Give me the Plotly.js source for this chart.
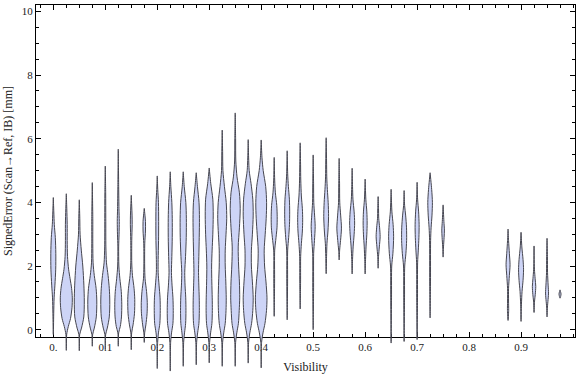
<!DOCTYPE html>
<html>
<head>
<meta charset="utf-8">
<script src="https://cdn.plot.ly/plotly-3.0.1.min.js"></script>
<style>html,body{margin:0;padding:0;background:#fff;}#chart{width:576px;height:377px;}</style>
</head>
<body>
<div id="chart"></div>
<script>
// Violin centres (Visibility)
const visibility = [0, 0.025, 0.05, 0.075, 0.1, 0.125, 0.15, 0.175, 0.2, 0.225, 0.25, 0.275, 0.3, 0.325, 0.35, 0.375, 0.4,
  0.425, 0.45, 0.475, 0.5, 0.525, 0.55, 0.575, 0.6, 0.625, 0.65, 0.675, 0.7, 0.725, 0.75,
  0.875, 0.9, 0.925, 0.95, 0.975];

// Signed error levels (mm) along each violin outline
const profileY = [
  [-0.15, 0.5, 1.0, 1.4, 1.9, 2.4, 2.9, 3.3, 3.7, 4.15],
  [-0.65, -0.15, 0.1, 0.35, 0.7, 1.0, 1.3, 1.6, 1.9, 2.3, 2.8, 3.3, 3.8, 4.27],
  [-0.66, -0.15, 0.05, 0.4, 0.9, 1.4, 2.0, 2.5, 3.0, 3.5, 4.08],
  [-0.52, -0.15, 0.05, 0.4, 0.9, 1.3, 1.7, 2.1, 2.7, 3.5, 4.62],
  [-0.63, -0.15, 0.05, 0.4, 0.9, 1.3, 1.7, 2.1, 2.6, 3.5, 4.3, 5.14],
  [-0.52, -0.1, 0.1, 0.4, 0.8, 1.2, 1.6, 2.0, 2.6, 3.0, 3.4, 3.8, 4.5, 5.67],
  [-0.63, -0.1, 0.15, 0.5, 0.95, 1.3, 1.7, 2.1, 2.8, 3.3, 3.6, 4.22],
  [-0.4, -0.1, 0.15, 0.5, 0.85, 1.2, 1.6, 2.0, 2.7, 3.1, 3.4, 3.81],
  [-1.22, -0.4, -0.1, 0.2, 0.6, 1.0, 1.4, 1.8, 2.2, 2.8, 3.4, 4.0, 4.4, 4.83],
  [-1.3, -0.4, -0.1, 0.2, 0.6, 1.0, 1.4, 1.8, 2.3, 2.9, 3.5, 4.0, 4.5, 4.96],
  [-1.15, -0.4, -0.1, 0.2, 0.6, 1.0, 1.4, 1.8, 2.3, 2.9, 3.5, 4.0, 4.5, 4.96],
  [-1.1, -0.4, -0.1, 0.2, 0.6, 1.0, 1.4, 1.8, 2.3, 2.9, 3.5, 4.0, 4.5, 4.93],
  [-1.04, -0.4, -0.1, 0.2, 0.6, 1.0, 1.5, 2.0, 2.5, 3.0, 3.6, 4.1, 4.6, 5.08],
  [-1.15, -0.4, -0.1, 0.2, 0.6, 1.0, 1.5, 2.0, 2.5, 3.0, 3.5, 4.0, 4.5, 5.0, 5.6, 6.27],
  [-1.15, -0.4, -0.1, 0.2, 0.6, 1.0, 1.5, 2.0, 2.6, 3.2, 3.8, 4.3, 4.8, 5.3, 6.0, 6.81],
  [-1.05, -0.4, -0.1, 0.2, 0.6, 1.0, 1.5, 2.0, 2.5, 3.0, 3.6, 4.1, 4.6, 5.0, 5.97],
  [-1.2, -0.4, -0.1, 0.2, 0.6, 1.0, 1.5, 2.0, 2.5, 3.0, 3.5, 4.0, 4.5, 5.0, 5.4, 5.96],
  [0.42, 1.5, 2.5, 2.8, 3.2, 3.55, 3.9, 4.3, 4.7, 5.41],
  [0.31, 1.5, 2.5, 2.9, 3.3, 3.7, 4.1, 4.5, 4.9, 5.62],
  [0.65, 1.5, 2.3, 2.7, 3.1, 3.45, 3.8, 4.2, 4.7, 5.2, 5.87],
  [0.0, 1.2, 2.4, 2.8, 3.24, 3.6, 4.0, 4.6, 5.49],
  [1.76, 2.3, 2.7, 3.1, 3.55, 4.0, 4.4, 4.8, 5.3, 6.03],
  [2.19, 2.5, 2.8, 3.19, 3.6, 4.0, 4.6, 5.38],
  [1.75, 2.2, 2.6, 3.0, 3.35, 3.7, 4.1, 4.5, 5.07],
  [1.75, 2.2, 2.6, 3.0, 3.35, 3.7, 4.1, 4.73],
  [1.93, 2.3, 2.6, 2.92, 3.2, 3.5, 3.8, 4.18],
  [-0.42, 1.0, 2.0, 2.4, 2.92, 3.3, 3.7, 4.0, 4.41],
  [-0.37, 1.0, 2.0, 2.4, 2.8, 3.2, 3.6, 3.9, 4.37],
  [-0.31, 1.0, 2.1, 2.5, 2.9, 3.3, 3.7, 4.1, 4.63],
  [0.37, 1.5, 2.8, 3.2, 3.6, 4.0, 4.4, 4.93],
  [2.28, 2.6, 2.9, 3.13, 3.4, 3.92],
  [0.29, 0.6, 0.9, 1.3, 1.7, 2.04, 2.4, 2.8, 3.16],
  [0.26, 0.8, 1.2, 1.55, 1.88, 2.2, 2.6, 3.06],
  [0.54, 0.9, 1.1, 1.36, 1.6, 1.9, 2.63],
  [0.4, 0.75, 1.0, 1.15, 1.4, 1.8, 2.3, 2.87],
  [0.99, 1.12, 1.25]
];

// Relative density at each level (outline half-width)
const profileD = [
  [0, 0.4, 0.8, 1.6, 2.4, 2.5, 2.0, 1.0, 0.5, 0],
  [0, 0.4, 2.0, 4.2, 5.7, 6.0, 5.3, 3.8, 2.3, 1.2, 0.9, 0.9, 0.5, 0],
  [0, 0.4, 2.2, 4.5, 5.0, 4.6, 3.5, 2.0, 0.8, 0.5, 0],
  [0, 0.4, 2.0, 4.0, 4.5, 3.8, 2.0, 0.8, 0.5, 0.5, 0],
  [0, 0.4, 2.0, 4.0, 4.5, 4.0, 2.8, 1.2, 0.6, 0.5, 0.4, 0],
  [0, 0.4, 2.0, 3.2, 3.5, 3.0, 1.6, 0.6, 0.4, 0.8, 1.0, 0.7, 0.4, 0],
  [0, 0.4, 1.8, 3.2, 3.5, 2.8, 1.2, 0.5, 0.5, 0.9, 0.8, 0],
  [0, 0.4, 1.6, 2.8, 3.0, 2.3, 0.8, 0.4, 0.5, 1.2, 1.2, 0],
  [0, 0.4, 1.2, 2.6, 3.0, 2.8, 1.8, 0.9, 0.9, 1.3, 1.4, 1.2, 0.5, 0],
  [0, 0.4, 1.3, 2.7, 3.0, 2.7, 1.8, 1.2, 1.6, 2.0, 2.0, 1.6, 0.6, 0],
  [0, 0.4, 1.3, 2.4, 2.7, 2.5, 1.8, 1.5, 2.3, 3.0, 3.1, 2.6, 1.0, 0],
  [0, 0.4, 1.4, 2.7, 3.1, 3.0, 2.6, 2.3, 2.6, 3.0, 3.2, 2.8, 1.2, 0],
  [0, 0.4, 1.4, 2.7, 3.1, 3.0, 2.6, 2.4, 2.9, 3.6, 4.0, 3.6, 1.5, 0],
  [0, 0.4, 1.5, 3.0, 3.8, 4.0, 3.6, 3.0, 3.0, 3.8, 4.5, 4.0, 2.2, 0.7, 0.4, 0],
  [0, 0.4, 1.6, 3.2, 4.0, 4.5, 4.2, 3.4, 3.0, 4.2, 5.0, 4.2, 1.8, 0.6, 0.4, 0],
  [0, 0.4, 1.6, 3.4, 4.6, 5.0, 4.2, 3.2, 3.2, 4.2, 5.0, 4.6, 2.8, 1.0, 0],
  [0, 0.4, 1.8, 3.8, 5.3, 5.8, 4.8, 3.4, 3.0, 4.0, 5.0, 5.4, 4.5, 2.0, 0.8, 0],
  [0, 0.4, 0.5, 1.5, 2.8, 3.0, 2.6, 1.2, 0.5, 0],
  [0, 0.4, 0.5, 1.5, 2.3, 2.5, 2.2, 1.2, 0.5, 0],
  [0, 0.4, 0.5, 1.2, 2.2, 2.5, 2.2, 1.2, 0.6, 0.4, 0],
  [0, 0.4, 0.5, 1.3, 2.0, 1.4, 0.6, 0.4, 0],
  [0, 0.4, 0.8, 1.8, 2.4, 2.0, 1.2, 0.6, 0.4, 0],
  [0, 0.5, 1.4, 2.3, 1.5, 0.6, 0.4, 0],
  [0, 0.4, 1.0, 2.0, 2.5, 2.0, 0.8, 0.4, 0],
  [0, 0.4, 0.9, 1.7, 2.0, 1.7, 0.7, 0],
  [0, 0.4, 1.2, 2.0, 1.5, 0.6, 0.4, 0],
  [0, 0.4, 0.6, 1.8, 2.5, 2.0, 0.8, 0.4, 0],
  [0, 0.4, 0.6, 1.8, 2.5, 2.4, 1.5, 0.5, 0],
  [0, 0.4, 0.5, 1.2, 1.8, 2.0, 1.5, 0.5, 0],
  [0, 0.4, 0.5, 1.0, 1.9, 2.3, 1.6, 0],
  [0, 0.4, 1.0, 1.3, 0.8, 0],
  [0, 0.6, 0.5, 0.5, 1.3, 2.0, 1.3, 0.5, 0],
  [0, 0.4, 1.0, 2.0, 2.5, 2.0, 0.8, 0],
  [0, 0.5, 1.2, 1.7, 1.1, 0.4, 0],
  [0, 0.5, 1.2, 1.5, 1.1, 0.5, 0.4, 0],
  [0, 1.0, 0]
];

const xTickVals = [0, 0.1, 0.2, 0.3, 0.4, 0.5, 0.6, 0.7, 0.8, 0.9];
const xTickText = ['0.', '0.1', '0.2', '0.3', '0.4', '0.5', '0.6', '0.7', '0.8', '0.9'];
const yTickVals = [0, 2, 4, 6, 8, 10];
const yTickText = ['0', '2', '4', '6', '8', '10'];

// geometry
const W = 576, H = 377;
const mL = 36, mR = 1, mT = 5, mB = 5;
const plotH = H - mT - mB;
const axisBottomPx = 337;            // pixel row of the x axis
const yMin = -0.23, yMax = 10.2;
const pxPerUnit = (axisBottomPx - mT) / (yMax - yMin);
const y2Min = yMin - (H - mB - axisBottomPx) / pxPerUnit;
const yDomainLo = (H - mB - axisBottomPx) / plotH;
const xRange = [-0.0333, 1.0038];
const widthScale = (xRange[1] - xRange[0]) / (W - mL - mR); // density unit -> x units

// empty trace that creates the framed x/y subplot
const frameTrace = {type: 'scatter', mode: 'lines', x: [], y: [], xaxis: 'x', yaxis: 'y', hoverinfo: 'skip', showlegend: false};

const violinTraces = visibility.map((c, i) => {
  const ys = profileY[i], ds = profileD[i];
  const xs = [], yy = [];
  for (let k = 0; k < ys.length; k++) { xs.push(c + ds[k] * widthScale); yy.push(ys[k]); }
  for (let k = ys.length - 1; k >= 0; k--) { xs.push(c - ds[k] * widthScale); yy.push(ys[k]); }
  return {
    type: 'scatter', mode: 'lines', x: xs, y: yy, xaxis: 'x', yaxis: 'y2',
    fill: 'toself', fillcolor: 'rgb(205,212,246)',
    line: {color: 'rgb(70,70,80)', width: 1, shape: 'spline', smoothing: 0.8},
    hoverinfo: 'skip', showlegend: false
  };
});

const font = {family: '"Liberation Serif", "DejaVu Serif", serif', size: 11, color: '#222'};

const layout = {
  width: W, height: H,
  margin: {l: mL, r: mR, t: mT, b: mB},
  paper_bgcolor: '#fff', plot_bgcolor: 'rgba(0,0,0,0)',
  font: font,
  showlegend: false,
  xaxis: {
    range: xRange, anchor: 'y', domain: [0, 1],
    showgrid: false, zeroline: false,
    showline: true, linecolor: '#000', linewidth: 1, mirror: 'ticks',
    ticks: 'inside', ticklen: 5, tickwidth: 1, tickcolor: '#000',
    tickmode: 'array', tickvals: xTickVals, ticktext: xTickText,
    minor: {dtick: 0.025, tick0: 0, ticks: 'inside', ticklen: 3, tickcolor: '#000', showgrid: false},
    tickfont: font, automargin: false,
    title: {text: 'Visibility', font: {family: font.family, size: 12, color: '#222'}, standoff: 10}
  },
  yaxis: {
    range: [yMin, yMax], domain: [yDomainLo, 1], anchor: 'x',
    showgrid: false, zeroline: false,
    showline: true, linecolor: '#000', linewidth: 1, mirror: 'ticks',
    ticks: 'inside', ticklen: 5, tickwidth: 1, tickcolor: '#000',
    tickmode: 'array', tickvals: yTickVals, ticktext: yTickText,
    minor: {dtick: 0.5, tick0: 0, ticks: 'inside', ticklen: 3, tickcolor: '#000', showgrid: false},
    tickfont: font, automargin: false,
    title: {text: 'SignedError (Scan\u2192Ref, IB) [mm]', font: {family: font.family, size: 12, color: '#222'}, standoff: 6}
  },
  yaxis2: {
    range: [y2Min, yMax], domain: [0, 1], anchor: 'x',
    visible: false, showgrid: false, zeroline: false, fixedrange: true
  }
};

Plotly.newPlot('chart', [frameTrace].concat(violinTraces), layout, {staticPlot: true, displayModeBar: false});
</script>
</body>
</html>
